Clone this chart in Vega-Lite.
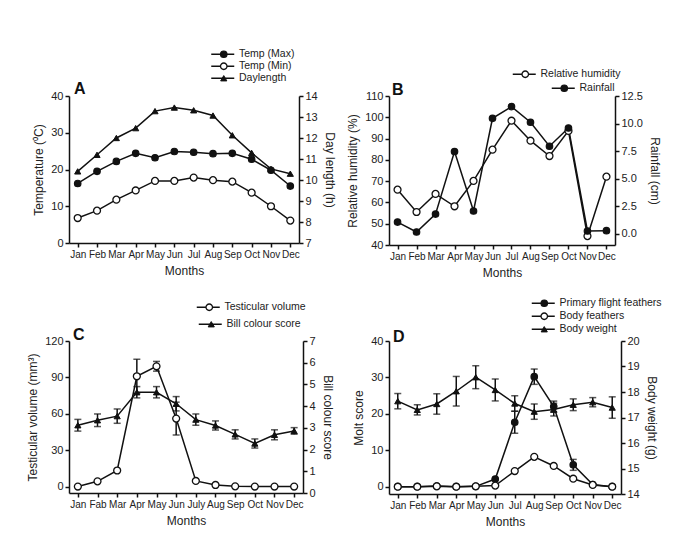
{
  "$schema": "https://vega.github.io/schema/vega-lite/v6.json",
  "padding": {"left": 26, "top": 41, "right": 5, "bottom": 5},
  "background": "white",
  "datasets": {
    "a": [
      {"month": "Jan", "tmax": 16.2, "tmin": 6.8, "day": 10.41},
      {"month": "Feb", "tmax": 19.5, "tmin": 8.8, "day": 11.2},
      {"month": "Mar", "tmax": 22.2, "tmin": 11.8, "day": 12.0},
      {"month": "Apr", "tmax": 24.4, "tmin": 14.3, "day": 12.47},
      {"month": "May", "tmax": 23.2, "tmin": 16.9, "day": 13.28},
      {"month": "Jun", "tmax": 24.9, "tmin": 16.9, "day": 13.45},
      {"month": "Jul", "tmax": 24.7, "tmin": 17.8, "day": 13.32},
      {"month": "Aug", "tmax": 24.3, "tmin": 17.1, "day": 13.07},
      {"month": "Sep", "tmax": 24.4, "tmin": 16.7, "day": 12.13},
      {"month": "Oct", "tmax": 22.8, "tmin": 13.7, "day": 11.29},
      {"month": "Nov", "tmax": 19.8, "tmin": 10.0, "day": 10.53},
      {"month": "Dec", "tmax": 15.5, "tmin": 6.1, "day": 10.3}
    ],
    "b": [
      {"month": "Jan", "rh": 66, "rain": 1.08},
      {"month": "Feb", "rh": 55.5, "rain": 0.18},
      {"month": "Mar", "rh": 64, "rain": 1.8},
      {"month": "Apr", "rh": 58.2, "rain": 7.47},
      {"month": "May", "rh": 70.1, "rain": 2.08},
      {"month": "Jun", "rh": 84.8, "rain": 10.48},
      {"month": "Jul", "rh": 98.4, "rain": 11.54},
      {"month": "Aug", "rh": 89, "rain": 10.12},
      {"month": "Sep", "rh": 81.8, "rain": 7.95},
      {"month": "Oct", "rh": 93.6, "rain": 9.6},
      {"month": "Nov", "rh": 44.2, "rain": 0.27},
      {"month": "Dec", "rh": 72.1, "rain": 0.3}
    ],
    "c": [
      {"month": "Jan", "tv": 0.3, "tv_e": 0, "bill": 3.12, "bill_e": 0.27},
      {"month": "Fab", "tv": 4.6, "tv_e": 0, "bill": 3.35, "bill_e": 0.29},
      {"month": "Mar", "tv": 13.5, "tv_e": 0, "bill": 3.54, "bill_e": 0.33},
      {"month": "Apr", "tv": 91, "tv_e": 14, "bill": 4.64, "bill_e": 0.26},
      {"month": "May", "tv": 99.2, "tv_e": 4, "bill": 4.64, "bill_e": 0.26},
      {"month": "Jun", "tv": 56.2, "tv_e": 13.5, "bill": 4.11, "bill_e": 0.33},
      {"month": "July", "tv": 4.9, "tv_e": 0, "bill": 3.38, "bill_e": 0.26},
      {"month": "Aug", "tv": 1.6, "tv_e": 0, "bill": 3.11, "bill_e": 0.21},
      {"month": "Sep", "tv": 0.5, "tv_e": 0, "bill": 2.7, "bill_e": 0.21},
      {"month": "Oct", "tv": 0.3, "tv_e": 0, "bill": 2.28, "bill_e": 0.21},
      {"month": "Nov", "tv": 0.3, "tv_e": 0, "bill": 2.68, "bill_e": 0.23},
      {"month": "Dec", "tv": 0.3, "tv_e": 0, "bill": 2.86, "bill_e": 0.15}
    ],
    "d": [
      {"month": "Jan", "pf": 0, "pf_e": 0, "bf": 0, "bw": 17.64, "bw_e": 0.3},
      {"month": "Feb", "pf": 0, "pf_e": 0, "bf": 0, "bw": 17.3, "bw_e": 0.2},
      {"month": "Mar", "pf": 0.2, "pf_e": 0, "bf": 0.1, "bw": 17.53, "bw_e": 0.4},
      {"month": "Apr", "pf": 0, "pf_e": 0, "bf": 0, "bw": 18.03, "bw_e": 0.58},
      {"month": "May", "pf": 0.1, "pf_e": 0, "bf": 0.1, "bw": 18.58, "bw_e": 0.45},
      {"month": "Jun", "pf": 2.1, "pf_e": 0, "bf": 0.3, "bw": 18.08, "bw_e": 0.43},
      {"month": "Jul", "pf": 17.7, "pf_e": 3, "bf": 4.3, "bw": 17.55, "bw_e": 0.3},
      {"month": "Aug", "pf": 30.2, "pf_e": 2.1, "bf": 8.2, "bw": 17.23, "bw_e": 0.3},
      {"month": "Sep", "pf": 22, "pf_e": 1.5, "bf": 5.7, "bw": 17.31, "bw_e": 0.25},
      {"month": "Oct", "pf": 6, "pf_e": 1.5, "bf": 2.2, "bw": 17.5, "bw_e": 0.23},
      {"month": "Nov", "pf": 0.6, "pf_e": 0, "bf": 0.5, "bw": 17.6, "bw_e": 0.18},
      {"month": "Dec", "pf": 0, "pf_e": 0, "bf": 0, "bw": 17.39, "bw_e": 0.42}
    ]
  },
  "columns": 2,
  "spacing": {"row": 12, "column": 10},
  "concat": [
    {
      "width": 230, "height": 147,
      "data": {"name": "a"},
      "title": {"text": "A", "anchor": "start", "frame": "group", "fontSize": 16, "fontWeight": "bold", "offset": -55, "dx": 5, "color": "#111"},
      "encoding": {"x": {"field": "month", "type": "nominal", "scale": {"type": "point", "padding": 0.45, "domain": ["Jan","Feb","Mar","Apr","May","Jun","Jul","Aug","Sep","Oct","Nov","Dec"]}, "axis": {"title": "Months"}}},
      "layer": [
        {"mark": {"type": "line", "strokeWidth": 1.5},
         "encoding": {"y": {"field": "tmax", "type": "quantitative", "scale": {"domain": [0, 40]}, "axis": {"title": "Temperature (⁰C)", "values": [0,10,20,30,40], "orient": "left"}},
           "stroke": {"datum": "Temp (Max)", "scale": {"range": ["#111"]}, "legend": {"orient": "none", "legendX": 141.25, "legendY": -54.25, "title": null, "padding": 0, "symbolType": "stroke", "symbolSize": 529, "symbolStrokeWidth": 1.5, "labelOpacity": 0, "zindex": 0}}}},
        {"mark": {"type": "line", "strokeWidth": 1.5},
         "encoding": {"y": {"field": "tmin", "type": "quantitative", "scale": {"domain": [0, 40]}, "axis": null},
           "stroke": {"datum": "Temp (Min)", "scale": {"range": ["#111"]}, "legend": {"orient": "none", "legendX": 141.25, "legendY": -42.25, "title": null, "padding": 0, "symbolType": "stroke", "symbolSize": 529, "symbolStrokeWidth": 1.5, "labelOpacity": 0, "zindex": 0}}}},
        {"mark": {"type": "line", "strokeWidth": 1.5},
         "encoding": {"y": {"field": "day", "type": "quantitative", "scale": {"domain": [7, 14]}, "axis": {"title": "Day length (h)", "values": [7,8,9,10,11,12,13,14], "orient": "right"}},
           "stroke": {"datum": "Daylength", "scale": {"range": ["#111"]}, "legend": {"orient": "none", "legendX": 141.25, "legendY": -30.25, "title": null, "padding": 0, "symbolType": "stroke", "symbolSize": 529, "symbolStrokeWidth": 1.5, "labelOpacity": 0, "zindex": 0}}}},
        {"mark": {"type": "point", "filled": true, "shape": "circle", "size": 42, "stroke": "#111", "strokeWidth": 1.2, "opacity": 1},
         "encoding": {"y": {"field": "tmax", "type": "quantitative", "scale": {"domain": [0, 40]}, "axis": null},
           "fill": {"datum": "Temp (Max)", "scale": {"range": ["#111"]}, "legend": {"orient": "none", "legendX": 149.5, "legendY": -47, "title": null, "padding": 0, "symbolType": "circle", "symbolSize": 42, "symbolStrokeColor": "#111", "symbolStrokeWidth": 1.2, "labelOffset": 10, "zindex": 1}}}},
        {"mark": {"type": "point", "filled": true, "shape": "circle", "size": 48, "stroke": "#111", "strokeWidth": 1.3, "opacity": 1},
         "encoding": {"y": {"field": "tmin", "type": "quantitative", "scale": {"domain": [0, 40]}, "axis": null},
           "fill": {"datum": "Temp (Min)", "scale": {"range": ["white"]}, "legend": {"orient": "none", "legendX": 149.5, "legendY": -35, "title": null, "padding": 0, "symbolType": "circle", "symbolSize": 42, "symbolStrokeColor": "#111", "symbolStrokeWidth": 1.3, "labelOffset": 10, "zindex": 1}}}},
        {"mark": {"type": "point", "filled": true, "shape": "triangle-up", "size": 38, "stroke": "#111", "strokeWidth": 1, "opacity": 1},
         "encoding": {"y": {"field": "day", "type": "quantitative", "scale": {"domain": [7, 14]}, "axis": null},
           "fill": {"datum": "Daylength", "scale": {"range": ["#111"]}, "legend": {"orient": "none", "legendX": 149.5, "legendY": -23, "title": null, "padding": 0, "symbolType": "triangle-up", "symbolSize": 38, "symbolStrokeColor": "#111", "symbolStrokeWidth": 1, "labelOffset": 10, "zindex": 1}}}}
      ],
      "resolve": {"scale": {"y": "independent", "fill": "independent", "stroke": "independent"}}
    },
    {
      "width": 226, "height": 149,
      "data": {"name": "b"},
      "title": {"text": "B", "anchor": "start", "frame": "group", "fontSize": 16, "fontWeight": "bold", "offset": -36, "dx": 3, "color": "#111"},
      "encoding": {"x": {"field": "month", "type": "nominal", "scale": {"type": "point", "padding": 0.45, "domain": ["Jan","Feb","Mar","Apr","May","Jun","Jul","Aug","Sep","Oct","Nov","Dec"]}, "axis": {"title": "Months"}}},
      "layer": [
        {"mark": {"type": "line", "strokeWidth": 1.5},
         "encoding": {"y": {"field": "rh", "type": "quantitative", "scale": {"domain": [40, 110]}, "axis": {"title": "Relative humidity (%)", "values": [40,50,60,70,80,90,100,110], "orient": "left"}},
           "stroke": {"datum": "Relative humidity", "scale": {"range": ["#111"]}, "legend": {"orient": "none", "legendX": 122.75, "legendY": -34.25, "title": null, "padding": 0, "symbolType": "stroke", "symbolSize": 529, "symbolStrokeWidth": 1.5, "labelOpacity": 0, "zindex": 0}}}},
        {"mark": {"type": "line", "strokeWidth": 1.5},
         "encoding": {"y": {"field": "rain", "type": "quantitative", "scale": {"domain": [-1, 12.5]}, "axis": {"title": "Rainfall (cm)", "values": [0,2.5,5,7.5,10,12.5], "format": ".1f", "orient": "right"}},
           "stroke": {"datum": "Rainfall", "scale": {"range": ["#111"]}, "legend": {"orient": "none", "legendX": 161.75, "legendY": -20.25, "title": null, "padding": 0, "symbolType": "stroke", "symbolSize": 529, "symbolStrokeWidth": 1.5, "labelOpacity": 0, "zindex": 0}}}},
        {"mark": {"type": "point", "filled": true, "shape": "circle", "size": 48, "stroke": "#111", "strokeWidth": 1.3, "opacity": 1},
         "encoding": {"y": {"field": "rh", "type": "quantitative", "scale": {"domain": [40, 110]}, "axis": null},
           "fill": {"datum": "Relative humidity", "scale": {"range": ["white"]}, "legend": {"orient": "none", "legendX": 131, "legendY": -27, "title": null, "padding": 0, "symbolType": "circle", "symbolSize": 42, "symbolStrokeColor": "#111", "symbolStrokeWidth": 1.3, "labelOffset": 10, "zindex": 1}}}},
        {"mark": {"type": "point", "filled": true, "shape": "circle", "size": 42, "stroke": "#111", "strokeWidth": 1.2, "opacity": 1},
         "encoding": {"y": {"field": "rain", "type": "quantitative", "scale": {"domain": [-1, 12.5]}, "axis": null},
           "fill": {"datum": "Rainfall", "scale": {"range": ["#111"]}, "legend": {"orient": "none", "legendX": 170, "legendY": -13, "title": null, "padding": 0, "symbolType": "circle", "symbolSize": 42, "symbolStrokeColor": "#111", "symbolStrokeWidth": 1.2, "labelOffset": 10, "zindex": 1}}}}
      ],
      "resolve": {"scale": {"y": "independent", "fill": "independent", "stroke": "independent"}}
    },
    {
      "width": 234, "height": 152,
      "data": {"name": "c"},
      "title": {"text": "C", "anchor": "start", "frame": "group", "fontSize": 16, "fontWeight": "bold", "offset": -48, "dx": 4, "color": "#111"},
      "encoding": {"x": {"field": "month", "type": "nominal", "scale": {"type": "point", "padding": 0.45, "domain": ["Jan","Fab","Mar","Apr","May","Jun","July","Aug","Sep","Oct","Nov","Dec"]}, "axis": {"title": "Months"}}},
      "layer": [
        {"mark": {"type": "line", "strokeWidth": 1.5},
         "encoding": {"y": {"field": "tv", "type": "quantitative", "scale": {"domain": [-5, 120]}, "axis": {"title": "Testicular volume (mm³)", "values": [0,30,60,90,120], "orient": "left"}},
           "stroke": {"datum": "Testicular volume", "scale": {"range": ["#111"]}, "legend": {"orient": "none", "legendX": 126.75, "legendY": -46.25, "title": null, "padding": 0, "symbolType": "stroke", "symbolSize": 529, "symbolStrokeWidth": 1.5, "labelOpacity": 0, "zindex": 0}}}},
        {"mark": {"type": "line", "strokeWidth": 1.5},
         "encoding": {"y": {"field": "bill", "type": "quantitative", "scale": {"domain": [0, 7]}, "axis": {"title": "Bill colour score", "values": [0,1,2,3,4,5,6,7], "orient": "right"}},
           "stroke": {"datum": "Bill colour score", "scale": {"range": ["#111"]}, "legend": {"orient": "none", "legendX": 128.75, "legendY": -29.25, "title": null, "padding": 0, "symbolType": "stroke", "symbolSize": 529, "symbolStrokeWidth": 1.5, "labelOpacity": 0, "zindex": 0}}}},
        {"mark": {"type": "errorbar", "ticks": {"size": 7, "thickness": 1.5, "color": "#111"}, "rule": {"strokeWidth": 1.5, "color": "#111"}},
         "encoding": {"y": {"field": "tv", "type": "quantitative", "scale": {"domain": [-5, 120]}, "axis": null}, "yError": {"field": "tv_e"}}},
        {"mark": {"type": "errorbar", "ticks": {"size": 7, "thickness": 1.5, "color": "#111"}, "rule": {"strokeWidth": 1.5, "color": "#111"}},
         "encoding": {"y": {"field": "bill", "type": "quantitative", "scale": {"domain": [0, 7]}, "axis": null}, "yError": {"field": "bill_e"}}},
        {"mark": {"type": "point", "filled": true, "shape": "circle", "size": 48, "stroke": "#111", "strokeWidth": 1.3, "opacity": 1},
         "encoding": {"y": {"field": "tv", "type": "quantitative", "scale": {"domain": [-5, 120]}, "axis": null},
           "fill": {"datum": "Testicular volume", "scale": {"range": ["white"]}, "legend": {"orient": "none", "legendX": 135, "legendY": -39, "title": null, "padding": 0, "symbolType": "circle", "symbolSize": 42, "symbolStrokeColor": "#111", "symbolStrokeWidth": 1.3, "labelOffset": 10, "zindex": 1}}}},
        {"mark": {"type": "point", "filled": true, "shape": "triangle-up", "size": 38, "stroke": "#111", "strokeWidth": 1, "opacity": 1},
         "encoding": {"y": {"field": "bill", "type": "quantitative", "scale": {"domain": [0, 7]}, "axis": null},
           "fill": {"datum": "Bill colour score", "scale": {"range": ["#111"]}, "legend": {"orient": "none", "legendX": 137, "legendY": -22, "title": null, "padding": 0, "symbolType": "triangle-up", "symbolSize": 38, "symbolStrokeColor": "#111", "symbolStrokeWidth": 1, "labelOffset": 10, "zindex": 1}}}}
      ],
      "resolve": {"scale": {"y": "independent", "fill": "independent", "stroke": "independent"}}
    },
    {
      "width": 232, "height": 153,
      "data": {"name": "d"},
      "title": {"text": "D", "anchor": "start", "frame": "group", "fontSize": 16, "fontWeight": "bold", "offset": -54, "dx": 4, "color": "#111"},
      "encoding": {"x": {"field": "month", "type": "nominal", "scale": {"type": "point", "padding": 0.45, "domain": ["Jan","Feb","Mar","Apr","May","Jun","Jul","Aug","Sep","Oct","Nov","Dec"]}, "axis": {"title": "Months"}}},
      "layer": [
        {"mark": {"type": "line", "strokeWidth": 1.5},
         "encoding": {"y": {"field": "pf", "type": "quantitative", "scale": {"domain": [-2, 40]}, "axis": {"title": "Molt score", "values": [0,10,20,30,40], "orient": "left"}},
           "stroke": {"datum": "Primary flight feathers", "scale": {"range": ["#111"]}, "legend": {"orient": "none", "legendX": 141.75, "legendY": -50.25, "title": null, "padding": 0, "symbolType": "stroke", "symbolSize": 529, "symbolStrokeWidth": 1.5, "labelOpacity": 0, "zindex": 0}}}},
        {"mark": {"type": "line", "strokeWidth": 1.5},
         "encoding": {"y": {"field": "bf", "type": "quantitative", "scale": {"domain": [-2, 40]}, "axis": null},
           "stroke": {"datum": "Body feathers", "scale": {"range": ["#111"]}, "legend": {"orient": "none", "legendX": 141.75, "legendY": -37.25, "title": null, "padding": 0, "symbolType": "stroke", "symbolSize": 529, "symbolStrokeWidth": 1.5, "labelOpacity": 0, "zindex": 0}}}},
        {"mark": {"type": "line", "strokeWidth": 1.5},
         "encoding": {"y": {"field": "bw", "type": "quantitative", "scale": {"domain": [14, 20]}, "axis": {"title": "Body weight (g)", "values": [14,15,16,17,18,19,20], "orient": "right"}},
           "stroke": {"datum": "Body weight", "scale": {"range": ["#111"]}, "legend": {"orient": "none", "legendX": 141.75, "legendY": -24.25, "title": null, "padding": 0, "symbolType": "stroke", "symbolSize": 529, "symbolStrokeWidth": 1.5, "labelOpacity": 0, "zindex": 0}}}},
        {"mark": {"type": "errorbar", "ticks": {"size": 7, "thickness": 1.5, "color": "#111"}, "rule": {"strokeWidth": 1.5, "color": "#111"}},
         "encoding": {"y": {"field": "pf", "type": "quantitative", "scale": {"domain": [-2, 40]}, "axis": null}, "yError": {"field": "pf_e"}}},
        {"mark": {"type": "errorbar", "ticks": {"size": 7, "thickness": 1.5, "color": "#111"}, "rule": {"strokeWidth": 1.5, "color": "#111"}},
         "encoding": {"y": {"field": "bw", "type": "quantitative", "scale": {"domain": [14, 20]}, "axis": null}, "yError": {"field": "bw_e"}}},
        {"mark": {"type": "point", "filled": true, "shape": "circle", "size": 42, "stroke": "#111", "strokeWidth": 1.2, "opacity": 1},
         "encoding": {"y": {"field": "pf", "type": "quantitative", "scale": {"domain": [-2, 40]}, "axis": null},
           "fill": {"datum": "Primary flight feathers", "scale": {"range": ["#111"]}, "legend": {"orient": "none", "legendX": 150, "legendY": -43, "title": null, "padding": 0, "symbolType": "circle", "symbolSize": 42, "symbolStrokeColor": "#111", "symbolStrokeWidth": 1.2, "labelOffset": 10, "zindex": 1}}}},
        {"mark": {"type": "point", "filled": true, "shape": "circle", "size": 48, "stroke": "#111", "strokeWidth": 1.3, "opacity": 1},
         "encoding": {"y": {"field": "bf", "type": "quantitative", "scale": {"domain": [-2, 40]}, "axis": null},
           "fill": {"datum": "Body feathers", "scale": {"range": ["white"]}, "legend": {"orient": "none", "legendX": 150, "legendY": -30, "title": null, "padding": 0, "symbolType": "circle", "symbolSize": 42, "symbolStrokeColor": "#111", "symbolStrokeWidth": 1.3, "labelOffset": 10, "zindex": 1}}}},
        {"mark": {"type": "point", "filled": true, "shape": "triangle-up", "size": 38, "stroke": "#111", "strokeWidth": 1, "opacity": 1},
         "encoding": {"y": {"field": "bw", "type": "quantitative", "scale": {"domain": [14, 20]}, "axis": null},
           "fill": {"datum": "Body weight", "scale": {"range": ["#111"]}, "legend": {"orient": "none", "legendX": 150, "legendY": -17, "title": null, "padding": 0, "symbolType": "triangle-up", "symbolSize": 38, "symbolStrokeColor": "#111", "symbolStrokeWidth": 1, "labelOffset": 10, "zindex": 1}}}}
      ],
      "resolve": {"scale": {"y": "independent", "fill": "independent", "stroke": "independent"}}
    }
  ],
  "resolve": {"scale": {"fill": "independent", "stroke": "independent"}},
  "config": {
    "font": "Liberation Sans",
    "view": {"stroke": null},
    "axis": {"grid": false, "domainColor": "#111", "domainWidth": 1.5, "tickColor": "#111", "tickWidth": 1.5, "tickSize": 4, "labelColor": "#222", "labelFontSize": 11, "titleColor": "#222", "titleFontSize": 12, "titleFontWeight": "normal", "labelPadding": 2, "titlePadding": 5},
    "axisX": {"labelFontSize": 10, "labelAngle": 0, "titlePadding": 6},
    "legend": {"labelFontSize": 10.5, "labelColor": "#222", "labelFont": "Liberation Sans"}
  }
}
